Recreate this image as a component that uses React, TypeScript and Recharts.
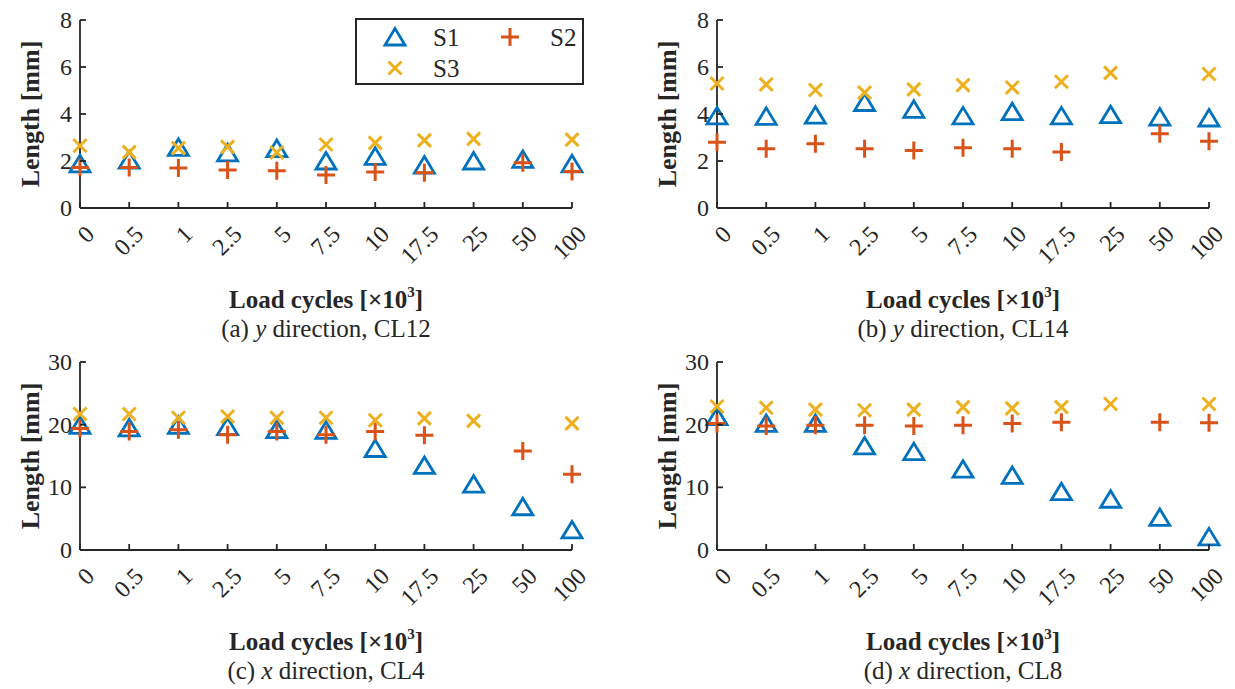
import React from 'react';
import { ScatterChart, Scatter, XAxis, YAxis } from 'recharts';

const CATEGORIES = ['0', '0.5', '1', '2.5', '5', '7.5', '10', '17.5', '25', '50', '100'];

// (a) y direction, CL12
const A_S1 = [1.88, 2.04, 2.58, 2.35, 2.53, 2.0, 2.2, 1.83, 2.0, 2.07, 1.88];
const A_S2 = [1.72, 1.72, 1.7, 1.62, 1.58, 1.4, 1.53, 1.5, null, 1.93, 1.55];
const A_S3 = [2.65, 2.38, 2.55, 2.6, 2.36, 2.7, 2.77, 2.88, 2.94, null, 2.91];

// (b) y direction, CL14
const B_S1 = [3.92, 3.9, 3.95, 4.49, 4.2, 3.92, 4.1, 3.92, 3.97, 3.87, 3.83];
const B_S2 = [2.8, 2.52, 2.73, 2.52, 2.45, 2.56, 2.52, 2.38, null, 3.16, 2.84];
const B_S3 = [5.3, 5.26, 5.02, 4.91, 5.05, 5.23, 5.13, 5.37, 5.75, null, 5.7];

// (c) x direction, CL4
const C_S1 = [19.9, 19.5, 19.9, 19.7, 19.2, 19.1, 16.2, 13.5, 10.5, 6.9, 3.2];
const C_S2 = [19.4, 18.9, 19.2, 18.4, 18.9, 18.4, 18.9, 18.3, null, 15.8, 12.1];
const C_S3 = [21.7, 21.7, 21.1, 21.3, 21.1, 21.1, 20.7, 21.0, 20.6, null, 20.2];

// (d) x direction, CL8
const D_S1 = [21.3, 20.2, 20.2, 16.6, 15.7, 12.9, 11.9, 9.3, 8.1, 5.2, 2.1];
const D_S2 = [20.2, 19.8, 19.9, 19.9, 19.8, 19.9, 20.2, 20.4, null, 20.4, 20.3];
const D_S3 = [22.9, 22.7, 22.4, 22.3, 22.4, 22.8, 22.6, 22.8, 23.3, null, 23.3];

const TICKS_8 = [0, 2, 4, 6, 8];
const TICKS_30 = [0, 10, 20, 30];

const BLUE = '#0072BD';
const ORANGE = '#D95319';
const YELLOW = '#EDB120';
const INK = '#262626';
const FONT = '"Liberation Serif", "Times New Roman", serif';

const toPoints = (values: (number | null)[]) =>
  values.flatMap((v, i) => (v == null ? [] : [{ x: i, y: v }]));

const Triangle = (props: any) => {
  const { cx, cy } = props;
  return (
    <polygon
      points={`${cx},${cy - 8.5} ${cx - 10},${cy + 8} ${cx + 10},${cy + 8}`}
      fill="none"
      stroke={BLUE}
      strokeWidth={2.8}
      strokeLinejoin="miter"
    />
  );
};

const Plus = (props: any) => {
  const { cx, cy } = props;
  return (
    <path d={`M${cx - 9},${cy}H${cx + 9}M${cx},${cy - 9}V${cy + 9}`} stroke={ORANGE} strokeWidth={3} />
  );
};

const Cross = (props: any) => {
  const { cx, cy } = props;
  const r = 6.5;
  return (
    <path
      d={`M${cx - r},${cy - r}L${cx + r},${cy + r}M${cx - r},${cy + r}L${cx + r},${cy - r}`}
      stroke={YELLOW}
      strokeWidth={3}
    />
  );
};

const XTick = (props: any) => {
  const { x, y, payload } = props;
  const tx = x + 10;
  const ty = y + 22;
  return (
    <g>
      <line x1={x} x2={x} y1={y} y2={y - 6} stroke={INK} strokeWidth={1.8} />
      <text
        x={tx}
        y={ty}
        textAnchor="end"
        dominantBaseline="central"
        transform={`rotate(-45 ${tx} ${ty})`}
        fontSize={24}
        fontFamily={FONT}
        fill={INK}
      >
        {CATEGORIES[payload.value]}
      </text>
    </g>
  );
};

const YTick = (props: any) => {
  const { x, y, payload } = props;
  return (
    <g>
      <line x1={x} x2={x + 6} y1={y} y2={y} stroke={INK} strokeWidth={1.8} />
      <text x={x - 8} y={y} textAnchor="end" dominantBaseline="central" fontSize={24} fontFamily={FONT} fill={INK}>
        {payload.value}
      </text>
    </g>
  );
};

const YLabel = (props: any) => {
  const vb = props.viewBox || {};
  const cx = vb.x + vb.width - 50;
  const cy = vb.y + vb.height / 2;
  return (
    <text
      x={cx}
      y={cy}
      textAnchor="middle"
      dominantBaseline="central"
      transform={`rotate(-90 ${cx} ${cy})`}
      fontSize={26}
      fontWeight="bold"
      fontFamily={FONT}
      fill={INK}
    >
      Length [mm]
    </text>
  );
};

interface PanelProps {
  left: number;
  top: number;
  plotLeft: number;
  plotTop: number;
  plotBottom: number;
  yMax: number;
  yTicks: number[];
  s1: (number | null)[];
  s2: (number | null)[];
  s3: (number | null)[];
  tag: string;
  axis: string;
  name: string;
}

const W = 617;
const H = 344;
const PLOT_W = 492;

function Panel({ left, top, plotLeft, plotTop, plotBottom, yMax, yTicks, s1, s2, s3, tag, axis, name }: PanelProps) {
  const xAxisH = 30;
  const margin = {
    top: plotTop - top,
    left: 0,
    right: left + W - (plotLeft + PLOT_W),
    bottom: top + H - plotBottom - xAxisH,
  };
  return (
    <>
      <div style={{ position: 'absolute', left, top }}>
        <ScatterChart width={W} height={H} margin={margin}>
          <XAxis
            type="number"
            dataKey="x"
            domain={[0, 10]}
            ticks={[0, 1, 2, 3, 4, 5, 6, 7, 8, 9, 10]}
            interval={0}
            tickSize={0}
            tickMargin={0}
            tickLine={false}
            tick={<XTick />}
            height={xAxisH}
            axisLine={{ stroke: INK, strokeWidth: 1.8 }}
          />
          <YAxis
            type="number"
            dataKey="y"
            domain={[0, yMax]}
            ticks={yTicks}
            interval={0}
            tickSize={0}
            tickMargin={0}
            tickLine={false}
            tick={<YTick />}
            width={plotLeft - left}
            axisLine={{ stroke: INK, strokeWidth: 1.8 }}
            label={{ content: <YLabel /> }}
          />
          <Scatter name="S1" data={toPoints(s1)} shape={<Triangle />} isAnimationActive={false} />
          <Scatter name="S2" data={toPoints(s2)} shape={<Plus />} isAnimationActive={false} />
          <Scatter name="S3" data={toPoints(s3)} shape={<Cross />} isAnimationActive={false} />
        </ScatterChart>
      </div>
      <div
        style={{
          position: 'absolute',
          left: plotLeft - 60,
          width: PLOT_W + 120,
          top: plotBottom + 92 - 12,
          height: 24,
          lineHeight: '24px',
          textAlign: 'center',
          fontFamily: FONT,
          fontWeight: 'bold',
          fontSize: 25,
          color: INK,
          whiteSpace: 'nowrap',
        }}
      >
        Load cycles [×10<sup style={{ fontSize: 15, lineHeight: 0, verticalAlign: 0, position: 'relative', top: -11 }}>3</sup>]
      </div>
      <div
        style={{
          position: 'absolute',
          left: plotLeft - 60,
          width: PLOT_W + 120,
          top: plotBottom + 121 - 12,
          height: 24,
          lineHeight: '24px',
          textAlign: 'center',
          fontFamily: FONT,
          fontSize: 25,
          color: INK,
          whiteSpace: 'nowrap',
        }}
      >
        {`(${tag}) `}<i>{axis}</i>{` direction, ${name}`}
      </div>
    </>
  );
}

function LegendBox() {
  const text = { fontSize: 25, fontFamily: FONT, fill: INK };
  return (
    <div
      style={{
        position: 'absolute',
        left: 355,
        top: 18,
        width: 229,
        height: 67,
        border: `2px solid ${INK}`,
        boxSizing: 'border-box',
        background: '#fff',
      }}
    >
      <svg width={225} height={63} style={{ display: 'block' }}>
        <Triangle cx={38} cy={17} />
        <text x={76} y={17} dominantBaseline="central" {...text}>S1</text>
        <Plus cx={153} cy={17} />
        <text x={193} y={17} dominantBaseline="central" {...text}>S2</text>
        <Cross cx={38} cy={48} />
        <text x={76} y={48} dominantBaseline="central" {...text}>S3</text>
      </svg>
    </div>
  );
}

export default function App() {
  return (
    <div style={{ position: 'absolute', left: 0, top: 0, width: 1235, height: 689, background: '#fff', overflow: 'hidden' }}>
      <Panel left={0} top={0} plotLeft={80} plotTop={20} plotBottom={208} yMax={8} yTicks={TICKS_8}
        s1={A_S1} s2={A_S2} s3={A_S3} tag="a" axis="y" name="CL12" />
      <Panel left={617} top={0} plotLeft={717} plotTop={20} plotBottom={208} yMax={8} yTicks={TICKS_8}
        s1={B_S1} s2={B_S2} s3={B_S3} tag="b" axis="y" name="CL14" />
      <Panel left={0} top={344} plotLeft={80} plotTop={362} plotBottom={550} yMax={30} yTicks={TICKS_30}
        s1={C_S1} s2={C_S2} s3={C_S3} tag="c" axis="x" name="CL4" />
      <Panel left={617} top={344} plotLeft={717} plotTop={362} plotBottom={550} yMax={30} yTicks={TICKS_30}
        s1={D_S1} s2={D_S2} s3={D_S3} tag="d" axis="x" name="CL8" />
      <LegendBox />
    </div>
  );
}
